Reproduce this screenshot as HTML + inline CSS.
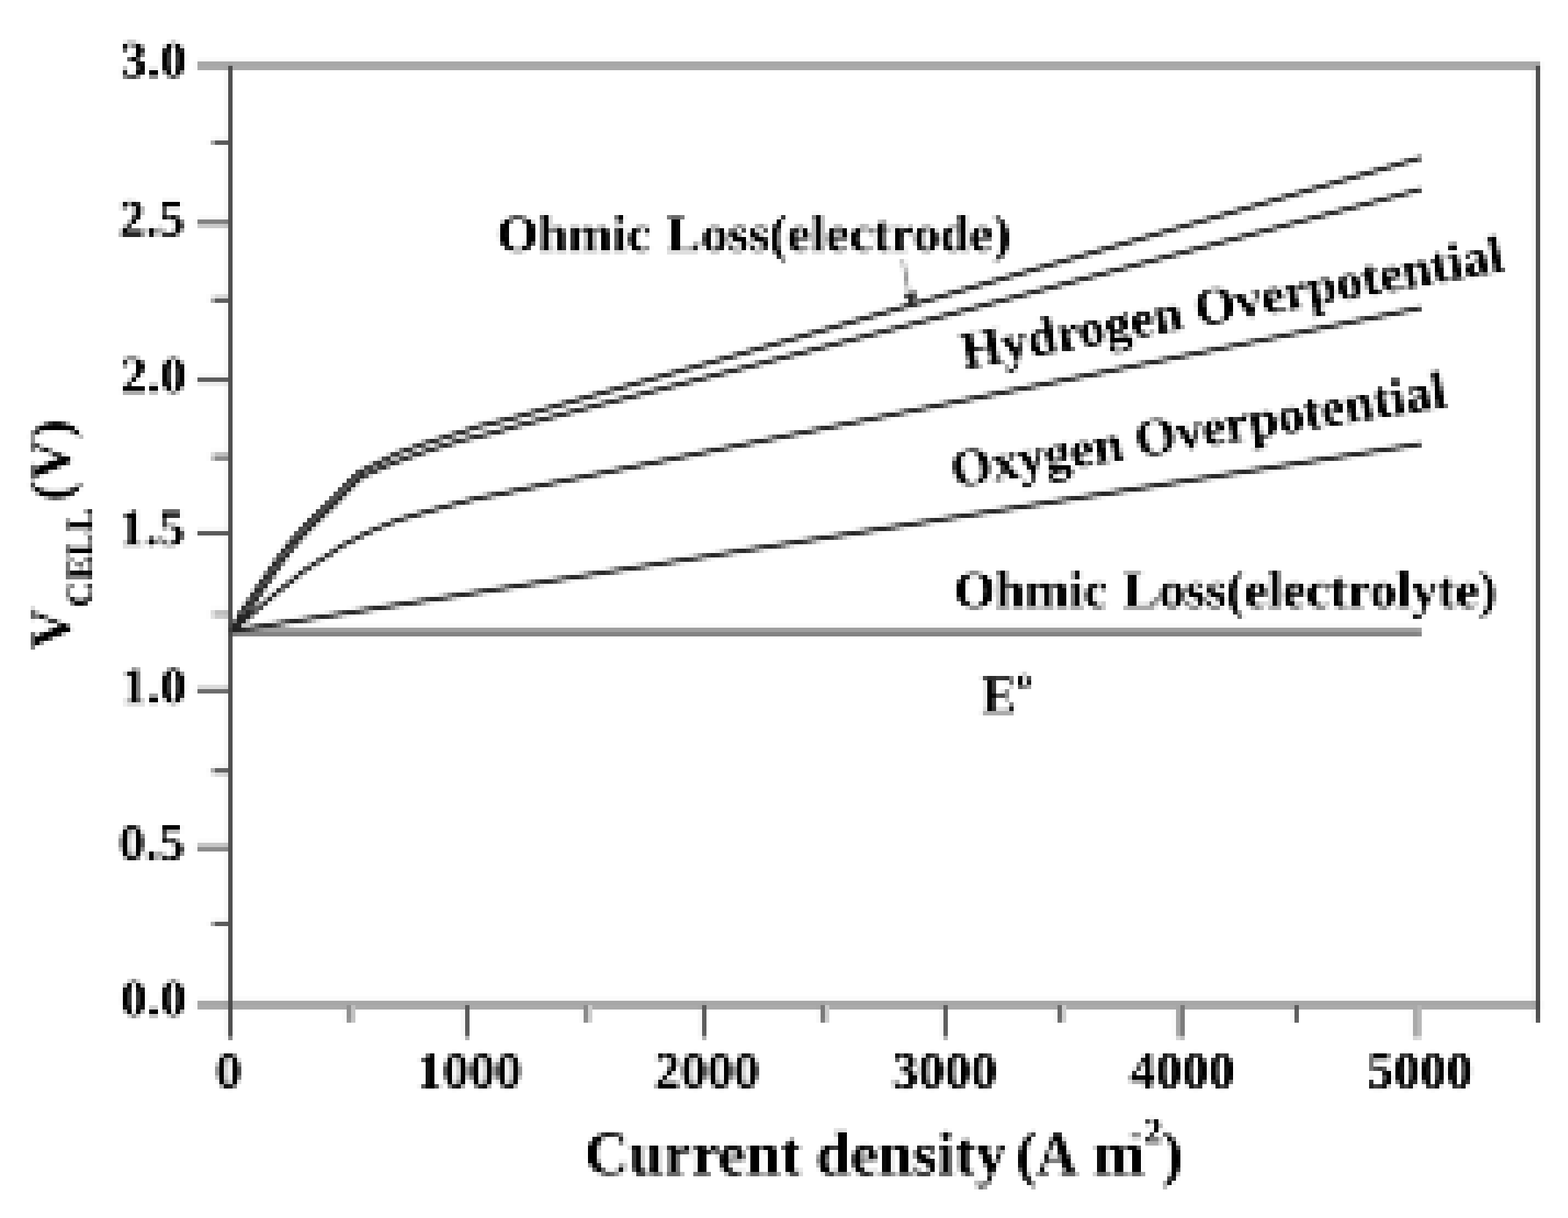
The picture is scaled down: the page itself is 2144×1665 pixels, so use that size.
<!DOCTYPE html>
<html lang="en"><head><meta charset="utf-8"><title>Cell voltage versus current density</title>
<style>html,body{margin:0;padding:0;background:#fff}body{width:2144px;height:1665px;overflow:hidden}svg{display:block;font-family:"Liberation Serif","DejaVu Serif",serif;font-weight:bold;fill:#000}text{stroke:#fff;stroke-width:0.3px;paint-order:fill}.cv{fill:none;stroke:#323232;stroke-width:6.1;stroke-linecap:butt;stroke-linejoin:round}</style></head><body>
<svg width="2144" height="1665" viewBox="0 0 2144 1665">
<defs><filter id="px" filterUnits="userSpaceOnUse" primitiveUnits="userSpaceOnUse" x="0" y="0" width="2148" height="1668" color-interpolation-filters="sRGB"><feGaussianBlur in="SourceGraphic" stdDeviation="1.5" result="b"/><feFlood x="3" y="3" width="1" height="1" flood-color="#000" result="f"/><feComposite in="f" in2="f" operator="over" x="0" y="0" width="6" height="6" result="t"/><feTile in="t" x="0" y="0" width="2148" height="1668" result="g"/><feComposite in="b" in2="g" operator="in" result="s"/><feMorphology in="s" operator="dilate" radius="2" result="d"/><feOffset in="d" dx="-1" dy="0" result="dx"/><feComposite in="d" in2="dx" operator="over" result="e"/><feOffset in="e" dx="0" dy="-1" result="ey"/><feComposite in="e" in2="ey" operator="over" result="p"/><feComponentTransfer in="p"><feFuncR type="linear" slope="1.08" intercept="-0.080"/><feFuncG type="linear" slope="1.08" intercept="-0.080"/><feFuncB type="linear" slope="1.08" intercept="-0.080"/></feComponentTransfer></filter></defs>
<g filter="url(#px)">
<rect x="-4" y="-4" width="2152" height="1673" fill="#fff"/>
<rect x="270" y="84" width="1837" height="12" fill="#aeaeae"/>
<rect x="270" y="1368" width="1837" height="12" fill="#aeaeae"/>
<rect x="312" y="90" width="6" height="1326" fill="#575757"/>
<rect x="312" y="1416" width="6" height="6" fill="#898989"/>
<rect x="2100" y="90" width="6" height="1308" fill="#575757"/>
<rect x="288" y="192" width="6" height="6" fill="#b0b0b0"/>
<rect x="294" y="192" width="18" height="6" fill="#626262"/>
<rect x="270" y="300" width="42" height="6" fill="#898989"/>
<rect x="270" y="306" width="42" height="6" fill="#cccccc"/>
<rect x="288" y="402" width="6" height="6" fill="#f0f0f0"/>
<rect x="294" y="402" width="18" height="6" fill="#e2e2e2"/>
<rect x="288" y="408" width="6" height="6" fill="#b1b1b1"/>
<rect x="294" y="408" width="18" height="6" fill="#646464"/>
<rect x="270" y="516" width="42" height="6" fill="#646464"/>
<rect x="270" y="522" width="42" height="6" fill="#ededed"/>
<rect x="288" y="618" width="6" height="6" fill="#e1e1e1"/>
<rect x="294" y="618" width="18" height="6" fill="#c5c5c5"/>
<rect x="288" y="624" width="6" height="6" fill="#c7c7c7"/>
<rect x="294" y="624" width="18" height="6" fill="#919191"/>
<rect x="270" y="726" width="42" height="6" fill="#626262"/>
<rect x="288" y="834" width="6" height="6" fill="#e1e1e1"/>
<rect x="294" y="834" width="18" height="6" fill="#c5c5c5"/>
<rect x="288" y="840" width="6" height="6" fill="#e5e5e5"/>
<rect x="294" y="840" width="18" height="6" fill="#cccccc"/>
<rect x="270" y="936" width="42" height="6" fill="#e2e2e2"/>
<rect x="270" y="942" width="42" height="6" fill="#737373"/>
<rect x="288" y="1050" width="6" height="6" fill="#b5b5b5"/>
<rect x="294" y="1050" width="18" height="6" fill="#6c6c6c"/>
<rect x="288" y="1056" width="6" height="6" fill="#ececec"/>
<rect x="294" y="1056" width="18" height="6" fill="#dbdbdb"/>
<rect x="270" y="1152" width="42" height="6" fill="#cccccc"/>
<rect x="270" y="1158" width="42" height="6" fill="#919191"/>
<rect x="288" y="1260" width="6" height="6" fill="#b0b0b0"/>
<rect x="294" y="1260" width="18" height="6" fill="#626262"/>
<rect x="636" y="1374" width="6" height="42" fill="#626262"/>
<rect x="636" y="1416" width="6" height="6" fill="#b0b0b0"/>
<rect x="960" y="1374" width="6" height="42" fill="#646464"/>
<rect x="960" y="1416" width="6" height="6" fill="#b1b1b1"/>
<rect x="1290" y="1374" width="6" height="42" fill="#646464"/>
<rect x="1290" y="1416" width="6" height="6" fill="#b1b1b1"/>
<rect x="1608" y="1374" width="6" height="42" fill="#b0b0b0"/>
<rect x="1608" y="1416" width="6" height="6" fill="#d7d7d7"/>
<rect x="1614" y="1374" width="6" height="42" fill="#818181"/>
<rect x="1614" y="1416" width="6" height="6" fill="#c0c0c0"/>
<rect x="1932" y="1374" width="6" height="42" fill="#b0b0b0"/>
<rect x="1932" y="1416" width="6" height="6" fill="#d7d7d7"/>
<rect x="1938" y="1374" width="6" height="42" fill="#bababa"/>
<rect x="1938" y="1416" width="6" height="6" fill="#dcdcdc"/>
<rect x="474" y="1374" width="6" height="24" fill="#989898"/>
<rect x="480" y="1374" width="6" height="24" fill="#c5c5c5"/>
<rect x="798" y="1374" width="6" height="24" fill="#919191"/>
<rect x="804" y="1374" width="6" height="24" fill="#d0d0d0"/>
<rect x="1122" y="1374" width="6" height="24" fill="#818181"/>
<rect x="1128" y="1374" width="6" height="24" fill="#d0d0d0"/>
<rect x="1446" y="1374" width="6" height="24" fill="#717171"/>
<rect x="1452" y="1374" width="6" height="24" fill="#d0d0d0"/>
<rect x="1770" y="1374" width="6" height="24" fill="#646464"/>
<rect x="318" y="858" width="1626" height="6" fill="#a7a7a7"/>
<rect x="318" y="864" width="1626" height="6" fill="#898989"/>
<path class="cv" d="M318.0,863.0 L1943.5,607.5"/>
<path class="cv" d="M318.0,863.0 L360.7,826.5 L382.0,808.0 L398.0,796.0 L413.0,783.0 L431.0,771.0 L450.0,759.0 L468.0,746.5 L487.0,737.0 L498.1,731.0 L511.4,725.0 L525.9,719.0 L541.7,712.4 L561.6,706.5 L582.7,700.5 L606.5,693.9 L629.0,688.0 L654.0,681.4 L685.8,675.4 L713.5,669.5 L978.0,616.0 L1300.0,551.5 L1943.5,421.6"/>
<path class="cv" d="M318.0,863.0 L334.5,843.5 L348.1,824.5 L360.2,805.5 L372.2,788.5 L384.5,770.5 L397.4,753.5 L409.5,738.5 L421.5,725.5 L433.5,713.5 L446.0,701.5 L458.5,689.5 L470.9,676.5 L483.5,663.5 L495.5,652.0 L511.4,645.0 L523.9,639.1 L539.1,633.2 L555.0,627.2 L573.5,620.6 L592.0,614.7 L611.8,608.7 L632.9,602.1 L658.0,596.2 L683.1,590.2 L704.3,583.6 L990.0,510.5 L1300.0,430.0 L1943.5,259.4"/>
<path class="cv" d="M318.0,863.0 L329.5,838.5 L343.1,819.5 L355.2,800.5 L367.2,783.5 L379.5,765.5 L392.4,748.5 L404.5,733.5 L416.5,720.5 L428.5,708.5 L441.0,696.5 L453.5,684.5 L465.9,671.5 L478.5,658.5 L490.5,647.0 L505.4,639.1 L518.0,633.2 L529.9,627.2 L542.4,620.6 L560.2,614.7 L574.8,608.7 L597.2,602.1 L615.7,596.2 L635.6,590.2 L654.0,583.6 L679.2,577.7 L703.0,571.7 L990.0,491.0 L1300.0,402.0 L1943.5,216.3"/>
<path d="M1235,356 L1244,404" fill="none" stroke="#919191" stroke-width="4"/>
<path d="M1236,402 L1254,399 L1249,424 Z" fill="#383838"/>
<text x="255.5" y="105.7" font-size="72" text-anchor="end">3.0</text>
<text x="253" y="322.5" font-size="72" text-anchor="end">2.5</text>
<text x="255.5" y="536.5" font-size="72" text-anchor="end">2.0</text>
<text x="253" y="745.8" font-size="72" text-anchor="end">1.5</text>
<text x="255.5" y="961.5" font-size="72" text-anchor="end">1.0</text>
<text x="253" y="1175.5" font-size="72" text-anchor="end">0.5</text>
<text x="255.5" y="1388.7" font-size="72" text-anchor="end">0.0</text>
<text x="313" y="1488" font-size="72" text-anchor="middle">0</text>
<text x="642" y="1488" font-size="72" text-anchor="middle">1000</text>
<text x="967" y="1488" font-size="72" text-anchor="middle">2000</text>
<text x="1292" y="1488" font-size="72" text-anchor="middle">3000</text>
<text x="1617" y="1488" font-size="72" text-anchor="middle">4000</text>
<text x="1942" y="1488" font-size="72" text-anchor="middle">5000</text>
<text x="680" y="344.2" font-size="72.8">Ohmic <tspan dx="2.5">Loss(electrode)</tspan></text>
<text x="1305" y="831" font-size="72.6">Ohmic <tspan dx="3.5">Loss(electrolyte)</tspan></text>
<text x="1342" y="975" font-size="73">E<tspan font-size="40" dy="-33">o</tspan></text>
<text transform="translate(1319,505) rotate(-10.3)" font-size="72">Hydrogen Overpotential</text>
<text transform="translate(1305,667) rotate(-9.3)" font-size="72.3">Oxygen Overpotential</text>
<text x="800" y="1606" font-size="84"><tspan letter-spacing="0.6">Current </tspan><tspan letter-spacing="0.6" dx="-2">density </tspan><tspan dx="-9">(</tspan><tspan dx="0" textLength="52" lengthAdjust="spacingAndGlyphs">A</tspan><tspan dx="5"> m</tspan><tspan font-size="50" dy="-40" dx="-21">-</tspan><tspan font-size="50" dy="-3" dx="3.5">2</tspan><tspan dy="43" dx="0">)</tspan></text>
<text transform="translate(95.5,888) rotate(-90)" font-size="78">V<tspan font-size="50" dy="30" dx="1">CELL</tspan><tspan dy="-30" dx="-12" letter-spacing="1.5"> (V)</tspan></text>
</g>
</svg></body></html>
